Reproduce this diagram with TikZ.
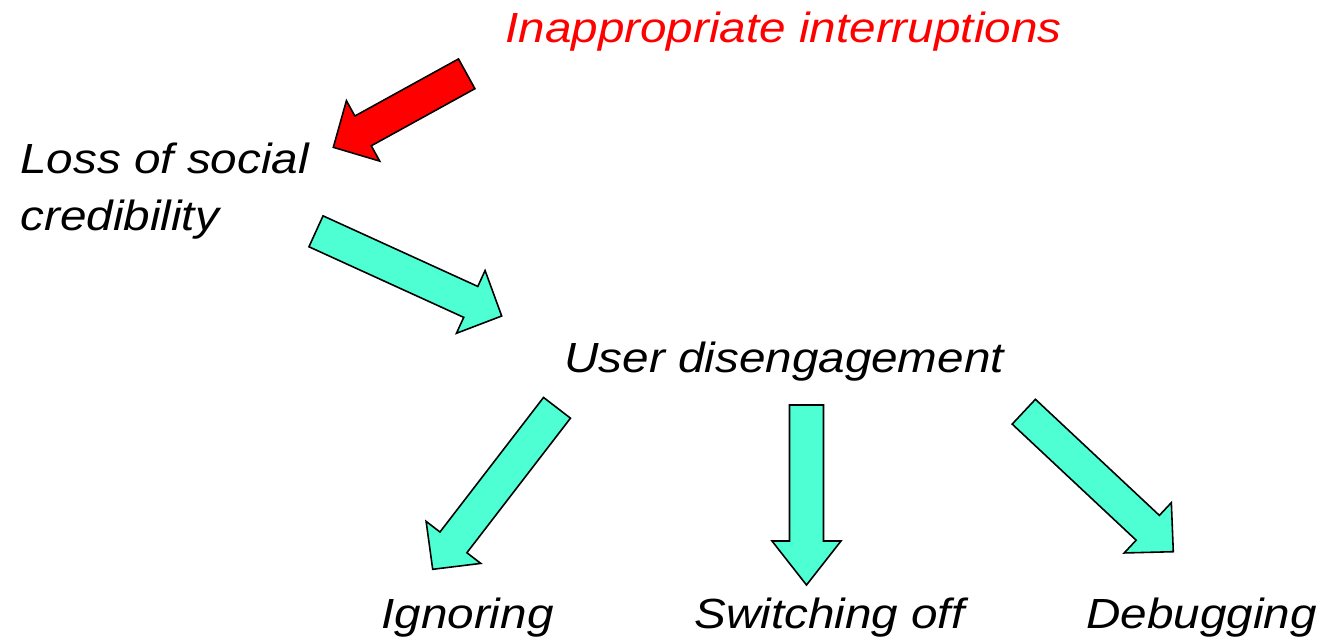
\documentclass[tikz,border=0pt]{standalone}
\usepackage{fontspec}
\setmainfont{Liberation Sans}[FakeStretch=1.13]
\usetikzlibrary{calc}

\definecolor{aqua}{RGB}{77,255,210}
\definecolor{alertred}{RGB}{255,0,0}

% half widths of the block arrows
\def\shafthalf{0.34cm}
\def\headhalf{0.69cm}

% block arrow: #1 fill, #2 tail coordinate, #3 tip coordinate, #4 head length
\newcommand{\blockarrow}[4]{%
  \coordinate (ba-base) at ($(#3)!#4!(#2)$);
  \draw[blockline, fill=#1]
    ($(#2)!\shafthalf!90:(#3)$) --
    ($(ba-base)!\shafthalf!90:(#3)$) --
    ($(ba-base)!\headhalf!90:(#3)$) --
    (#3) --
    ($(ba-base)!\headhalf!-90:(#3)$) --
    ($(ba-base)!\shafthalf!-90:(#3)$) --
    ($(#2)!\shafthalf!-90:(#3)$) -- cycle;
}

\tikzset{
  lbl/.style={font=\fontsize{24}{32}\selectfont\itshape, inner sep=0pt,
              anchor=base west, align=left},
  blockline/.style={draw=black, line width=0.9pt, line join=miter}
}

\begin{document}
\begin{tikzpicture}[x=0.02cm, y=-0.02cm]
  \useasboundingbox (0,0) rectangle (1322,643);

  % labels (a two-line label sits on the baseline of its last line)
  \node[lbl, text=alertred] (cause) at (505,42.5) {Inappropriate interruptions};
  \node[lbl] (loss) at (20,230) {Loss of social\\credibility};
  \node[lbl] (diseng) at (564,372.7) {User disengagement};
  \node[lbl] (ignore) at (381,628) {Ignoring};
  \node[lbl] (off) at (694,628) {Switching off};
  \node[lbl] (debug) at (1086,628) {Debugging};

  % arrow end points
  \coordinate (r-tail) at (466.7,73.8);
  \coordinate (r-tip)  at (333.3,147.3);
  \coordinate (a-tail) at (316,231.3);
  \coordinate (a-tip)  at (501.7,316);
  \coordinate (b-tail) at (557,407.8);
  \coordinate (b-tip)  at (432.7,569.3);
  \coordinate (c-tail) at (806.5,405);
  \coordinate (c-tip)  at (806.5,585);
  \coordinate (d-tail) at (1023.8,411.7);
  \coordinate (d-tip)  at (1173.3,551.7);

  % block arrows
  \blockarrow{alertred}{r-tail}{r-tip}{0.68cm}
  \blockarrow{aqua}{a-tail}{a-tip}{0.68cm}
  \blockarrow{aqua}{b-tail}{b-tip}{0.68cm}
  \blockarrow{aqua}{c-tail}{c-tip}{0.88cm}
  \blockarrow{aqua}{d-tail}{d-tip}{0.70cm}
\end{tikzpicture}
\end{document}
